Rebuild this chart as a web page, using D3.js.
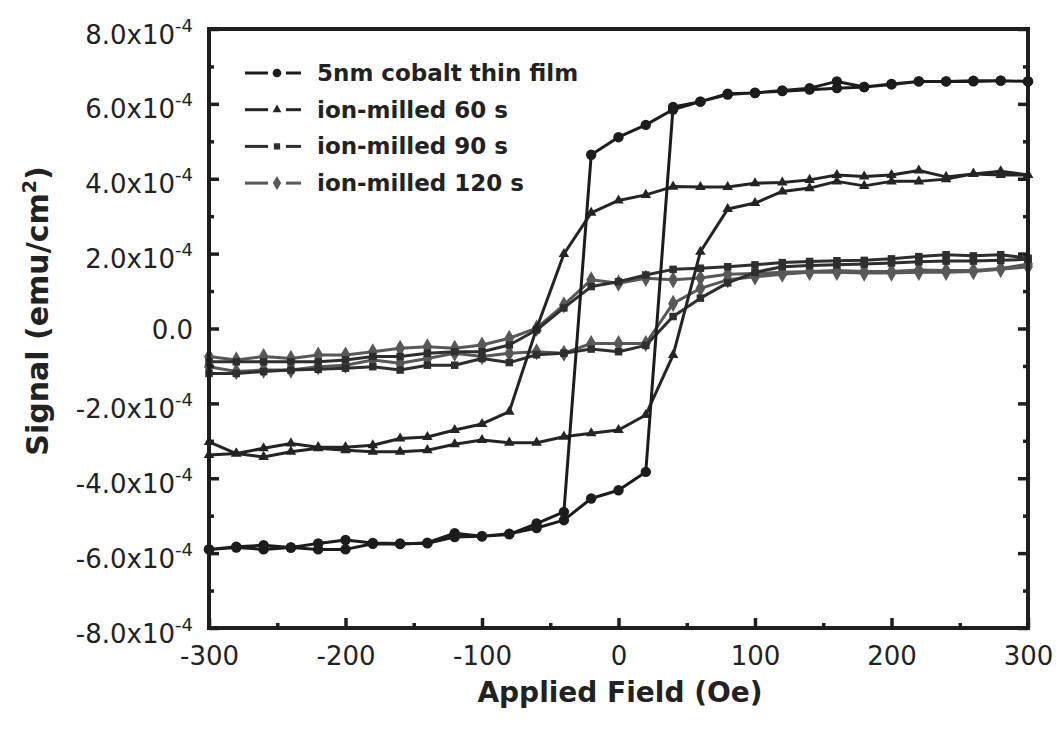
<!DOCTYPE html>
<html>
<head>
<meta charset="utf-8">
<script src="https://cdn.jsdelivr.net/npm/d3@7"></script>
<style>
  body { margin: 0; background: #fff; }
  text { font-family: "DejaVu Sans", sans-serif; fill: #222; }
</style>
</head>
<body>
<svg id="chart"></svg>
<script>
// applied field, sweep down (300 -> -300) then back up (-300 -> 300), Oe
const fieldDown = [300, 280, 260, 240, 220, 200, 180, 160, 140, 120, 100, 80, 60, 40, 20, 0,
  -20, -40, -60, -80, -100, -120, -140, -160, -180, -200, -220, -240, -260, -280, -300];
const fieldUp = [-300, -280, -260, -240, -220, -200, -180, -160, -140, -120, -100, -80, -60, -40, -20, 0,
  20, 40, 60, 80, 100, 120, 140, 160, 180, 200, 220, 240, 260, 280, 300];

// signal in units of 1e-4 emu/cm^2
const cobaltDown = [6.60, 6.62, 6.62, 6.60, 6.60, 6.53, 6.45, 6.60, 6.42, 6.36, 6.29, 6.27, 6.06, 5.85, 5.44, 5.11,
  4.64, -4.90, -5.21, -5.50, -5.55, -5.57, -5.74, -5.74, -5.73, -5.65, -5.74, -5.85, -5.79, -5.83, -5.90];
const cobaltUp = [-5.90, -5.85, -5.90, -5.85, -5.90, -5.90, -5.75, -5.76, -5.72, -5.47, -5.55, -5.48, -5.33, -5.12, -4.54, -4.32,
  -3.83, 5.92, 6.06, 6.25, 6.30, 6.34, 6.38, 6.42, 6.45, 6.52, 6.60, 6.60, 6.60, 6.62, 6.60];

const milled60Down = [4.10, 4.20, 4.13, 4.05, 4.22, 4.10, 4.06, 4.10, 3.97, 3.90, 3.88, 3.78, 3.78, 3.79, 3.57, 3.42,
  3.09, 1.99, 0.00, -2.22, -2.55, -2.71, -2.90, -2.94, -3.12, -3.17, -3.17, -3.07, -3.20, -3.34, -3.03];
const milled60Up = [-3.38, -3.34, -3.43, -3.29, -3.20, -3.25, -3.29, -3.29, -3.25, -3.09, -2.98, -3.05, -3.05, -2.89, -2.80, -2.71,
  -2.31, -0.71, 2.05, 3.19, 3.35, 3.66, 3.75, 3.93, 3.81, 3.93, 3.93, 3.99, 4.13, 4.10, 4.10];

const milled90Down = [1.88, 1.97, 1.94, 1.97, 1.92, 1.86, 1.82, 1.81, 1.79, 1.76, 1.70, 1.65, 1.61, 1.58, 1.43, 1.25,
  1.12, 0.55, -0.04, -0.44, -0.62, -0.62, -0.66, -0.75, -0.75, -0.84, -0.89, -0.89, -0.89, -0.89, -0.89];
const milled90Up = [-1.20, -1.20, -1.15, -1.11, -1.09, -1.06, -1.02, -1.11, -0.98, -0.98, -0.80, -0.91, -0.70, -0.66, -0.55, -0.62,
  -0.45, 0.32, 0.81, 1.22, 1.50, 1.65, 1.68, 1.70, 1.72, 1.75, 1.78, 1.80, 1.80, 1.82, 1.85];

const milled120Down = [1.72, 1.60, 1.55, 1.55, 1.56, 1.52, 1.52, 1.55, 1.52, 1.50, 1.47, 1.45, 1.35, 1.30, 1.34, 1.21,
  1.30, 0.63, 0.01, -0.26, -0.44, -0.53, -0.49, -0.53, -0.62, -0.71, -0.71, -0.80, -0.75, -0.84, -0.75];
const milled120Up = [-1.02, -1.15, -1.11, -1.11, -1.02, -0.98, -0.84, -0.93, -0.80, -0.66, -0.75, -0.66, -0.62, -0.66, -0.40, -0.40,
  -0.40, 0.67, 1.07, 1.30, 1.38, 1.45, 1.50, 1.50, 1.48, 1.48, 1.50, 1.50, 1.52, 1.58, 1.65];

const seriesNames = ["5nm cobalt thin film", "ion-milled 60 s", "ion-milled 90 s", "ion-milled 120 s"];

const xMajor = [-300, -200, -100, 0, 100, 200, 300];
const xMinor = [-250, -150, -50, 50, 150, 250];
const yMajor = [-8, -6, -4, -2, 0, 2, 4, 6, 8];
const yMinor = [-7, -5, -3, -1, 1, 3, 5, 7];

function drawChart() {

    var svgWidth = 1059, svgHeight = 733;
    var margin = { top: 29, right: 31, bottom: 105, left: 209 };
    var width = svgWidth - margin.left - margin.right;
    var height = svgHeight - margin.top - margin.bottom;

    var svg = d3.select("#chart")
        .attr("width", svgWidth)
        .attr("height", svgHeight);

    var g = svg.append("g")
        .attr("transform", "translate(" + margin.left + "," + margin.top + ")");

    var x = d3.scaleLinear().domain([-300, 300]).range([0, width]);
    var y = d3.scaleLinear().domain([-8, 8]).range([height, 0]);

    // build one closed loop per sample: down sweep followed by up sweep
    var raw = [
        [cobaltDown, cobaltUp],
        [milled60Down, milled60Up],
        [milled90Down, milled90Up],
        [milled120Down, milled120Up]
    ];
    var styles = [
        { color: "#1c1c1c", symbol: d3.symbolCircle, size: 85 },
        { color: "#242424", symbol: d3.symbolTriangle, size: 48 },
        { color: "#2e2e2e", symbol: d3.symbolSquare, size: 56 },
        { color: "#585858", symbol: d3.symbolDiamond, size: 85 }
    ];
    var series = raw.map(function (r, i) {
        var pts = [];
        fieldDown.forEach(function (f, j) { pts.push({ f: f, v: r[0][j] }); });
        fieldUp.forEach(function (f, j) { pts.push({ f: f, v: r[1][j] }); });
        return { name: seriesNames[i], pts: pts, style: styles[i] };
    });

    var line = d3.line()
        .x(function (d) { return x(d.f); })
        .y(function (d) { return y(d.v); });

    // draw the light ones first so the black loops sit on top
    var order = [3, 2, 1, 0];
    order.forEach(function (i) {
        var s = series[i];
        g.append("path")
            .datum(s.pts)
            .attr("fill", "none")
            .attr("stroke", s.style.color)
            .attr("stroke-width", 3)
            .attr("stroke-linejoin", "round")
            .attr("d", line);

        g.selectAll(".m" + i)
            .data(s.pts)
            .enter().append("path")
            .attr("class", "m" + i)
            .attr("transform", function (d) { return "translate(" + x(d.f) + "," + y(d.v) + ")"; })
            .attr("fill", s.style.color)
            .attr("d", d3.symbol().type(s.style.symbol).size(s.style.size));
    });

    // axes, ticks pointing inward
    var bottom = g.append("g")
        .attr("transform", "translate(0," + height + ")")
        .call(d3.axisBottom(x).tickValues(xMajor).tickSizeInner(-10).tickSizeOuter(0)
            .tickFormat(function (d) { return String(d); }));
    bottom.selectAll("text")
        .attr("y", 37).attr("dy", 0)
        .style("font-size", "26px");
    g.append("g")
        .attr("transform", "translate(0," + height + ")")
        .call(d3.axisBottom(x).tickValues(xMinor).tickSizeInner(-5).tickSizeOuter(0).tickFormat(""));

    var left = g.append("g")
        .call(d3.axisLeft(y).tickValues(yMajor).tickSizeInner(-10).tickSizeOuter(0).tickPadding(16).tickFormat(""));
    left.selectAll(".tick text").each(function (d) {
        var t = d3.select(this)
            .attr("dy", 0)
            .attr("y", d === 0 ? 9.5 : 14)
            .style("font-size", "26px");
        if (d === 0) {
            t.text("0.0");
        } else {
            t.append("tspan").text(d.toFixed(1) + "x10");
            t.append("tspan").attr("dy", -12).style("font-size", "18px").text("-4");
        }
    });
    g.append("g")
        .call(d3.axisLeft(y).tickValues(yMinor).tickSizeInner(-5).tickSizeOuter(0).tickFormat(""));

    g.append("g")
        .attr("transform", "translate(" + width + ",0)")
        .call(d3.axisRight(y).tickValues(yMajor).tickSizeInner(-10).tickSizeOuter(0).tickFormat(""));
    g.append("g")
        .attr("transform", "translate(" + width + ",0)")
        .call(d3.axisRight(y).tickValues(yMinor).tickSizeInner(-5).tickSizeOuter(0).tickFormat(""));

    g.selectAll(".domain").remove();
    g.selectAll(".tick line").attr("stroke", "#1e1e1e").attr("stroke-width", 3.5);

    g.append("rect")
        .attr("width", width)
        .attr("height", height)
        .attr("fill", "none")
        .attr("stroke", "#1e1e1e")
        .attr("stroke-width", 4);

    // axis titles
    svg.append("text")
        .attr("x", 620)
        .attr("y", 702)
        .attr("text-anchor", "middle")
        .style("font-size", "28px")
        .style("font-weight", "bold")
        .text("Applied Field (Oe)");

    var yt = svg.append("text")
        .attr("transform", "translate(48,311) rotate(-90)")
        .attr("text-anchor", "middle")
        .style("font-size", "30px")
        .style("font-weight", "bold");
    yt.append("tspan").text("Signal (emu/cm");
    yt.append("tspan").attr("dy", -12).style("font-size", "19px").text("2");
    yt.append("tspan").attr("dy", 12).text(")");

    // legend
    var legend = svg.append("g").attr("transform", "translate(245,73)");
    series.forEach(function (s, i) {
        var row = legend.append("g").attr("transform", "translate(0," + (i * 36.7) + ")");
        row.append("line").attr("x1", 0).attr("x2", 23).attr("stroke", s.style.color).attr("stroke-width", 3);
        row.append("line").attr("x1", 41).attr("x2", 56).attr("stroke", s.style.color).attr("stroke-width", 3);
        row.append("path")
            .attr("transform", "translate(32,0)")
            .attr("fill", s.style.color)
            .attr("d", d3.symbol().type(s.style.symbol).size(s.style.size * 0.7));
        row.append("text")
            .attr("x", 72)
            .attr("y", 8)
            .style("font-size", "23px")
            .style("font-weight", "bold")
            .text(s.name);
    });
}

drawChart();
</script>
</body>
</html>
